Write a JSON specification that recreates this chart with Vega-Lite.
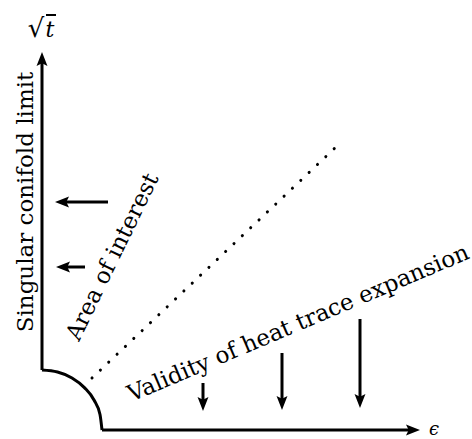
{
  "$schema": "https://vega.github.io/schema/vega-lite/v6.json",
  "width": 472,
  "height": 439,
  "autosize": "none",
  "padding": 0,
  "background": "white",
  "config": {"view": {"stroke": null}},
  "datasets": {
    "shafts": [
      {"id": "yaxis", "x": 0, "y": 60, "x2": 0, "y2": 368},
      {"id": "xaxis", "x": 60, "y": 0, "x2": 368, "y2": 0},
      {"id": "left1", "x": 66, "y": 228, "x2": 22, "y2": 228},
      {"id": "left2", "x": 43, "y": 163, "x2": 23, "y2": 163},
      {"id": "down1", "x": 161, "y": 47, "x2": 161, "y2": 28},
      {"id": "down2", "x": 240, "y": 77, "x2": 240, "y2": 29},
      {"id": "down3", "x": 318, "y": 111, "x2": 318, "y2": 31}
    ],
    "heads": [
      {"id": "yaxis", "x": 0, "y": 378, "angle": 0},
      {"id": "xaxis", "x": 378, "y": 0, "angle": 90},
      {"id": "left1", "x": 13, "y": 228, "angle": 270},
      {"id": "left2", "x": 14, "y": 163, "angle": 270},
      {"id": "down1", "x": 161, "y": 19, "angle": 180},
      {"id": "down2", "x": 240, "y": 20, "angle": 180},
      {"id": "down3", "x": 318, "y": 22, "angle": 180}
    ],
    "arc": [
      {"x": 0, "y": 60},
      {"x": 15.5, "y": 58},
      {"x": 30, "y": 52},
      {"x": 42.4, "y": 42.4},
      {"x": 52, "y": 30},
      {"x": 58, "y": 15.5},
      {"x": 60, "y": 0}
    ],
    "dotted": [
      {"x": 50, "y": 52},
      {"x": 295, "y": 284}
    ],
    "labels": [
      {"text": "Singular conifold limit", "x": -9, "y": 228, "angle": 270},
      {"text": "Area of interest", "x": 77, "y": 170, "angle": 296},
      {"text": "Validity of heat trace expansion", "x": 259, "y": 100, "angle": 337}
    ],
    "sqrt": [{"text": "√", "x": -6, "y": 401}],
    "tvar": [{"text": "t", "x": 8, "y": 400}],
    "vinculum": [{"x": 4, "x2": 14, "y": 415, "y2": 415}],
    "eps": [{"text": "ϵ", "x": 392, "y": -8.5}]
  },
  "encoding": {
    "x": {"field": "x", "type": "quantitative", "scale": {"domain": [-42, 430], "nice": false, "zero": false}, "axis": null},
    "y": {"field": "y", "type": "quantitative", "scale": {"domain": [-9, 430], "nice": false, "zero": false}, "axis": null}
  },
  "layer": [
    {
      "data": {"name": "shafts"},
      "mark": {"type": "rule", "strokeWidth": 3, "color": "black"},
      "encoding": {"x2": {"field": "x2"}, "y2": {"field": "y2"}}
    },
    {
      "data": {"name": "arc"},
      "mark": {"type": "line", "interpolate": "monotone", "strokeWidth": 3, "color": "black"},
      "encoding": {}
    },
    {
      "data": {"name": "dotted"},
      "mark": {"type": "line", "strokeWidth": 3, "color": "black", "strokeDash": [0.1, 11.4], "strokeCap": "round"},
      "encoding": {}
    },
    {
      "data": {"name": "heads"},
      "mark": {"type": "point", "filled": true, "opacity": 1, "color": "black", "size": 243, "shape": "M0,0L0.7,1.8L0,1.45L-0.7,1.8Z"},
      "encoding": {"angle": {"field": "angle", "type": "quantitative", "scale": null}}
    },
    {
      "data": {"name": "labels"},
      "mark": {"type": "text", "font": "DejaVu Serif", "fontSize": 23, "align": "center", "baseline": "alphabetic", "color": "black"},
      "encoding": {
        "text": {"field": "text"},
        "angle": {"field": "angle", "type": "quantitative", "scale": null}
      }
    },
    {
      "data": {"name": "sqrt"},
      "mark": {"type": "text", "font": "DejaVu Serif", "fontSize": 26, "align": "center", "baseline": "middle", "color": "black"},
      "encoding": {"text": {"field": "text"}}
    },
    {
      "data": {"name": "tvar"},
      "mark": {"type": "text", "font": "DejaVu Serif", "fontStyle": "italic", "fontSize": 22, "align": "center", "baseline": "middle", "color": "black"},
      "encoding": {"text": {"field": "text"}}
    },
    {
      "data": {"name": "vinculum"},
      "mark": {"type": "rule", "strokeWidth": 2, "color": "black"},
      "encoding": {"x2": {"field": "x2"}, "y2": {"field": "y2"}}
    },
    {
      "data": {"name": "eps"},
      "mark": {"type": "text", "font": "DejaVu Serif", "fontStyle": "italic", "fontSize": 18, "align": "center", "baseline": "bottom", "color": "black"},
      "encoding": {"text": {"field": "text"}}
    }
  ]
}
